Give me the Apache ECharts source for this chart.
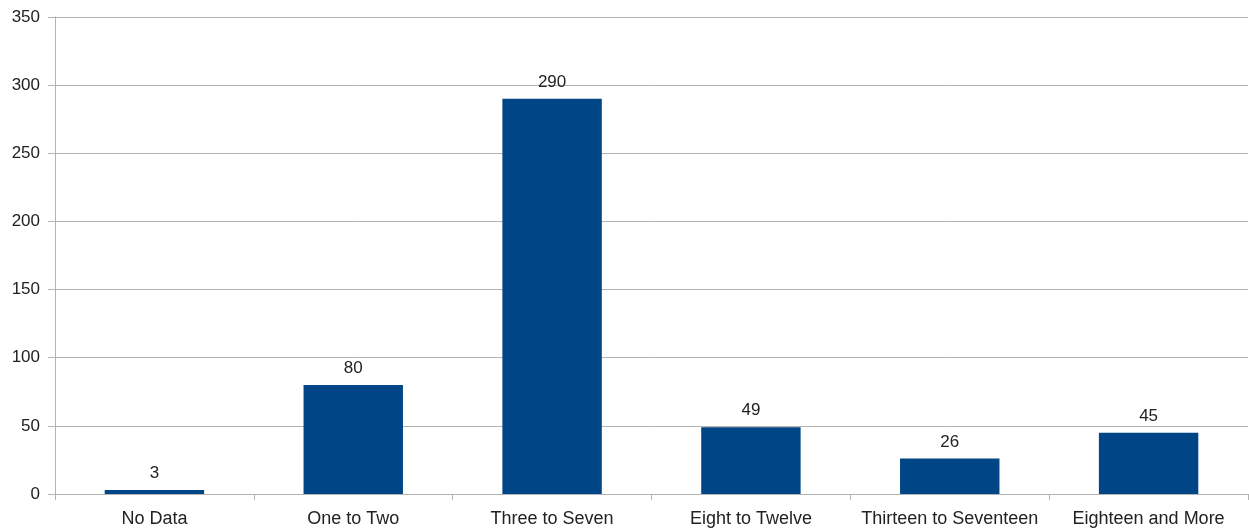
<!DOCTYPE html>
<html><head><meta charset="utf-8">
<script src="https://cdn.jsdelivr.net/npm/echarts@6/dist/echarts.min.js"></script>
<style>html,body{margin:0;padding:0;background:#fff}#c{width:1249px;height:531px}</style>
</head><body><div id="c"></div>
<script>
const categories = ["No Data","One to Two","Three to Seven","Eight to Twelve","Thirteen to Seventeen","Eighteen and More"];
const values = [3, 80, 290, 49, 26, 45];
const yTicks = [0, 50, 100, 150, 200, 250, 300, 350];

const font = 'Liberation Sans, Arial, sans-serif';
const chart = echarts.init(document.getElementById('c'));
chart.setOption({
  animation: false,
  grid: {left: 55, right: 1, top: 17, bottom: 37, containLabel: false},
  xAxis: {
    type: 'category', data: categories,
    axisLine: {lineStyle: {color: '#b3b3b3', width: 1}},
    axisTick: {show: true, length: 6, alignWithLabel: false, lineStyle: {color: '#b3b3b3'}},
    axisLabel: {color: '#222', fontFamily: font, fontSize: 18, margin: 16, interval: 0}
  },
  yAxis: {
    type: 'value', min: 0, max: 350, interval: 50,
    axisLine: {show: true, lineStyle: {color: '#b3b3b3'}},
    axisTick: {show: true, length: 7, lineStyle: {color: '#b3b3b3'}},
    splitLine: {show: true, lineStyle: {color: '#b3b3b3', width: 1}},
    axisLabel: {color: '#222', fontFamily: font, fontSize: 17, margin: 15,
      formatter: v => yTicks.includes(v) ? String(v) : ''}
  },
  series: [{
    type: 'bar', data: values, barWidth: '50%',
    itemStyle: {color: '#004586'},
    label: {show: true, position: 'top', distance: 8, color: '#222', fontFamily: font, fontSize: 17}
  }]
});
</script></body></html>
